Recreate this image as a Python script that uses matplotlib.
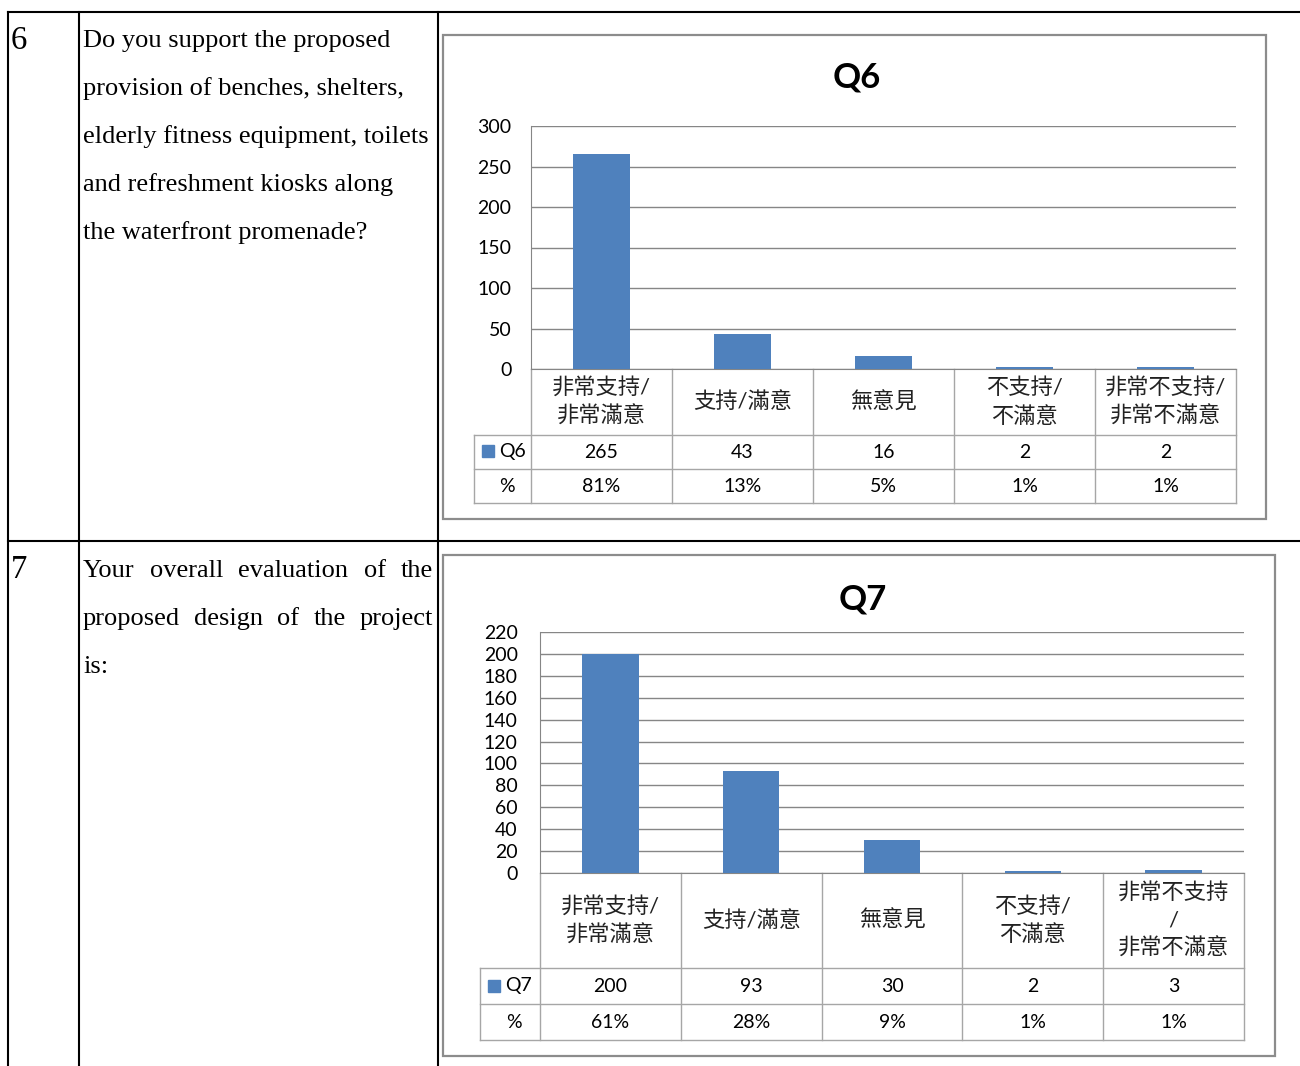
import matplotlib
matplotlib.use("Agg")
import matplotlib.pyplot as plt
import matplotlib.transforms as mtransforms
from matplotlib.patches import Rectangle

plt.rcParams["font.family"] = ["Lato", "Noto Sans CJK TC", "DejaVu Sans"]

# data
categories_q6 = ["非常支持/\n非常滿意", "支持/滿意", "無意見", "不支持/\n不滿意", "非常不支持/\n非常不滿意"]
categories_q7 = ["非常支持/\n非常滿意", "支持/滿意", "無意見", "不支持/\n不滿意", "非常不支持\n/\n非常不滿意"]
q6_counts = [265, 43, 16, 2, 2]
q6_pct = ["81%", "13%", "5%", "1%", "1%"]
q7_counts = [200, 93, 30, 2, 3]
q7_pct = ["61%", "28%", "9%", "1%", "1%"]
q6_ticks = [0, 50, 100, 150, 200, 250, 300]
q7_ticks = [0, 20, 40, 60, 80, 100, 120, 140, 160, 180, 200, 220]

q6_question = ["Do you support the proposed", "provision of benches, shelters,",
               "elderly fitness equipment, toilets", "and refreshment kiosks along",
               "the waterfront promenade?"]
q7_question = ["Your overall evaluation of the", "proposed design of the project", "is:"]

BLUE = "#4F81BD"
GRID = "#868686"
TBL = "#A6A6A6"
FRAME = "#8C8C8C"
SERIF = "Liberation Serif"

W, H = 1300, 1066
fig = plt.figure(figsize=(W / 100, H / 100), dpi=100)
bg = fig.add_axes([0, 0, 1, 1])
bg.set_xlim(0, W)
bg.set_ylim(H, 0)
bg.axis("off")

# outer document table
for x in [8, 79, 438]:
    bg.plot([x, x], [12, H], color="black", lw=1.5)
for y in [12, 541]:
    bg.plot([8, W], [y, y], color="black", lw=1.5)

bg.text(11, 49, "6", family=SERIF, fontsize=23.5, va="baseline")
bg.text(11, 578, "7", family=SERIF, fontsize=23.5, va="baseline")

for i, line in enumerate(q6_question):
    bg.text(83, 47 + 48 * i, line, family=SERIF, fontsize=19, va="baseline")

# justified paragraph for question 7
renderer = fig.canvas.get_renderer()
for i, line in enumerate(q7_question):
    y = 577 + 48 * i
    words = line.split()
    if i == len(q7_question) - 1:
        bg.text(83, y, line, family=SERIF, fontsize=19, va="baseline")
        continue
    texts = [bg.text(0, y, w, family=SERIF, fontsize=19, va="baseline") for w in words]
    widths = [t.get_window_extent(renderer).width for t in texts]
    gap = (433 - 83 - sum(widths)) / (len(words) - 1)
    x = 83
    for t, w in zip(texts, widths):
        t.set_x(x)
        x += w + gap


def draw_chart(name, cats, counts, pct, ticks, frame, title_xy, plot, header_x, rows, tick_pad, legend_xy):
    fx0, fy0, fx1, fy1 = frame
    bg.add_patch(Rectangle((fx0, fy0), fx1 - fx0, fy1 - fy0, fill=False, ec=FRAME, lw=1.6))
    bg.text(title_xy[0], title_xy[1], name, fontsize=25, fontweight="bold", ha="center", va="center")

    px0, py0, px1, py1 = plot
    ax = fig.add_axes([px0 / W, (H - py1) / H, (px1 - px0) / W, (py1 - py0) / H])
    ax.bar(range(len(counts)), counts, width=0.4, color=BLUE, zorder=3)
    ax.set_xlim(-0.5, len(counts) - 0.5)
    ax.set_ylim(0, ticks[-1])
    ax.set_yticks(ticks)
    ax.set_xticks([])
    ax.yaxis.grid(True, color=GRID, lw=1)
    ax.set_axisbelow(True)
    ax.tick_params(axis="y", length=0, pad=tick_pad, labelsize=14)
    ax.spines[["top", "right"]].set_visible(False)
    ax.spines[["left", "bottom"]].set_color(GRID)
    ax.patch.set_alpha(0)

    # data table under the axis
    blend = mtransforms.blended_transform_factory(ax.transData, bg.transData)
    for k in range(len(counts) + 1):
        ax.plot([k - 0.5, k - 0.5], [py1, rows[2]], transform=blend, clip_on=False, color=TBL, lw=1)
    for y in rows:
        bg.plot([header_x, px1], [y, y], color=TBL, lw=1)
    bg.plot([header_x, header_x], [rows[0], rows[2]], color=TBL, lw=1)

    for k, (c, n, p) in enumerate(zip(cats, counts, pct)):
        ax.text(k, (py1 + rows[0]) / 2, c, transform=blend, ha="center", va="center",
                fontsize=16, linespacing=1.45, color="#222222", clip_on=False)
        ax.text(k, (rows[0] + rows[1]) / 2, str(n), transform=blend, ha="center", va="center",
                fontsize=14, clip_on=False)
        ax.text(k, (rows[1] + rows[2]) / 2, p, transform=blend, ha="center", va="center",
                fontsize=14, clip_on=False)

    lx, ly = legend_xy
    bg.add_patch(Rectangle((lx, ly - 6), 12, 12, color=BLUE))
    bg.text(lx + 17, (rows[0] + rows[1]) / 2, name, fontsize=14, va="center")
    bg.text((header_x + px0) / 2 + 4, (rows[1] + rows[2]) / 2, "%", fontsize=14, ha="center", va="center")


draw_chart("Q6", categories_q6, q6_counts, q6_pct, q6_ticks,
           frame=(443, 35, 1266, 519), title_xy=(857, 77),
           plot=(531, 126, 1236, 369), header_x=474, rows=(435, 469, 503),
           tick_pad=14, legend_xy=(482, 451))
draw_chart("Q7", categories_q7, q7_counts, q7_pct, q7_ticks,
           frame=(443, 555, 1275, 1056), title_xy=(863, 599),
           plot=(540, 632, 1244, 873), header_x=480, rows=(968, 1004, 1040),
           tick_pad=16, legend_xy=(488, 986))

fig.savefig("out.png", dpi=100)
